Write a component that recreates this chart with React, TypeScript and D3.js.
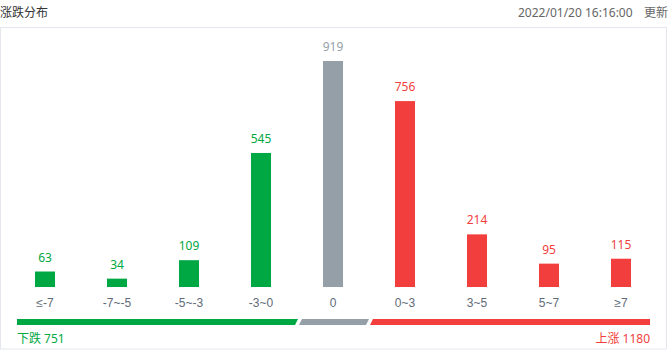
import React from "react";
import * as d3 from "d3";

const categories = ["≤-7", "-7~-5", "-5~-3", "-3~0", "0", "0~3", "3~5", "5~7", "≥7"];
const values = [63, 34, 109, 545, 919, 756, 214, 95, 115];
const kinds = ["down", "down", "down", "down", "flat", "up", "up", "up", "up"];
const downTotal = 751;
const upTotal = 1180;
const title = "涨跌分布";
const updatedTime = "2022/01/20 16:16:00";
const updatedWord = "更新";

const W = 668;
const H = 351;
const GREEN = "#00a843";
const GRAY = "#959fa8";
const RED = "#f23e3c";
const FONT = "'Noto Sans', 'Noto Sans CJK SC', sans-serif";
const AXIS_FONT = "'Liberation Sans', 'DejaVu Sans', sans-serif";

const colorOf = (k: string) => (k === "down" ? GREEN : k === "up" ? RED : GRAY);

export default function App() {
  const x = d3.scaleBand<string>().domain(categories).range([9, 657]).paddingInner(0.722).paddingOuter(0.361);
  const y = d3.scaleLinear().domain([0, 919]).range([287, 61]);
  const bw = x.bandwidth();

  const barY0 = 319;
  const barH = 6;
  const sk = 3;
  const segs = [
    { x0: 17, x1: 298, color: GREEN, leftSlant: false, rightSlant: true },
    { x0: 299, x1: 369, color: GRAY, leftSlant: true, rightSlant: true },
    { x0: 370, x1: 650, color: RED, leftSlant: true, rightSlant: false },
  ];
  const segPath = (s: any) => {
    const tl = s.leftSlant ? s.x0 + sk : s.x0;
    const bl = s.x0;
    const tr = s.x1;
    const br = s.rightSlant ? s.x1 - sk : s.x1;
    return `M${tl},${barY0}L${tr},${barY0}L${br},${barY0 + barH}L${bl},${barY0 + barH}Z`;
  };

  return (
    <svg width={W} height={H} style={{ position: "absolute", left: 0, top: 0, fontFamily: FONT }}>
      <rect x={0} y={0} width={W} height={H} fill="#fff" />
      <text x={0} y={17} fontSize={12} fill="#333">{title}</text>
      <text x={518} y={17} fontSize={12} fill="#666">{updatedTime}</text>
      <text x={644} y={17} fontSize={12} fill="#666">{updatedWord}</text>
      <rect x={0.5} y={27.5} width={666} height={321.5} fill="none" stroke="#e4e8ee" />
      {categories.map((c, i) => {
        const cx = (x(c) as number) + bw / 2;
        const col = colorOf(kinds[i]);
        return (
          <g key={c}>
            <rect x={x(c)} y={y(values[i])} width={bw} height={y(0) - y(values[i])} fill={col} />
            <text x={cx} y={y(values[i]) - 10} fontSize={12} fill={col} textAnchor="middle">{values[i]}</text>
            <text x={cx} y={307} fontSize={12} fill="#5f6b78" textAnchor="middle" fontFamily={AXIS_FONT}>{c}</text>
          </g>
        );
      })}
      {segs.map((s, i) => (
        <path key={i} d={segPath(s)} fill={s.color} />
      ))}
      <text x={17} y={343} fontSize={12} fill={GREEN}>{`下跌 ${downTotal}`}</text>
      <text x={650} y={343} fontSize={12} fill={RED} textAnchor="end">{`上涨 ${upTotal}`}</text>
    </svg>
  );
}
